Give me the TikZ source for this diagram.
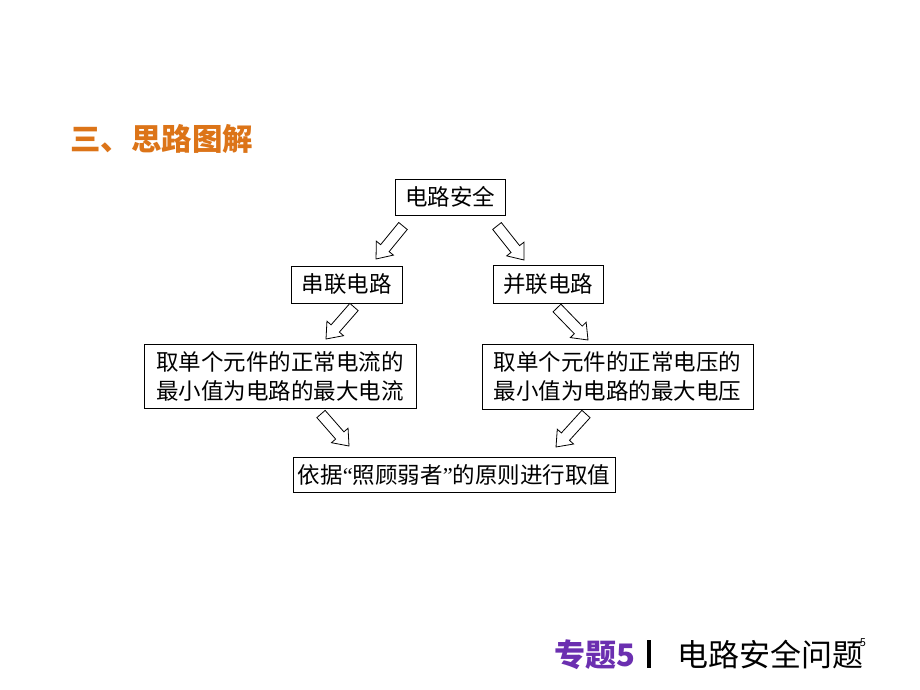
\documentclass[tikz,border=0pt]{standalone}
\usepackage{fontspec}
\newfontfamily\cjk{Noto Sans CJK SC}
\newfontfamily\latinq{Liberation Serif}
\usetikzlibrary{calc}
\definecolor{ttlorange}{HTML}{DC7418}
\definecolor{ftpurple}{HTML}{6B2FB0}
\tikzset{
  box/.style={draw=black, line width=0.9pt, fill=white, inner sep=0pt, align=center,
    font=\cjk\fontsize{22.5}{29}\selectfont},
  blk/.style={draw=black, line width=0.8pt, fill=white},
}
% hollow block arrow between two named coordinates
\newcommand{\hollowarrow}[2]{%
  \draw[blk] let \p1=(#1), \p2=(#2), \n1={atan2(\y2-\y1,\x2-\x1)}, \n2={veclen(\x2-\x1,\y2-\y1)} in
    [shift={(\p1)}, rotate=\n1]
    (0pt,-5.5pt) -- ($(\n2,0pt)+(-14pt,-5.5pt)$) -- ($(\n2,0pt)+(-14pt,-11pt)$) -- (\n2,0pt)
    -- ($(\n2,0pt)+(-14pt,11pt)$) -- ($(\n2,0pt)+(-14pt,5.5pt)$) -- (0pt,5.5pt) -- cycle;}
\begin{document}
\begin{tikzpicture}[x=1pt,y=-1pt]
\useasboundingbox (0,0) rectangle (920,690);
\fill[white] (0,0) rectangle (920,690);
% title
\node[anchor=west, text=ttlorange, font=\cjk\bfseries\fontsize{30.5}{32}\selectfont, inner sep=0pt] (title) at (70,139) {三、思路图解};
% boxes
\node[box, minimum width=110pt, minimum height=36pt] (top) at (450,197) {电路安全};
\node[box, minimum width=111pt, minimum height=37pt] (ser) at (346.5,284.5) {串联电路};
\node[box, minimum width=110pt, minimum height=38pt] (par) at (548,284) {并联电路};
\node[box, minimum width=272pt, minimum height=64pt] (lbox) at (280,376) {取单个元件的正常电流的\\最小值为电路的最大电流};
\node[box, minimum width=271pt, minimum height=65pt] (rbox) at (617.5,376.5) {取单个元件的正常电压的\\最小值为电路的最大电压};
\node[box, minimum width=322pt, minimum height=35pt] (bot) at (454,474.5) {依据{\latinq “}照顾弱者{\latinq ”}的原则进行取值};
% arrow ends
\coordinate (a1s) at (403,226);
\coordinate (a1e) at (376,259);
\coordinate (a2s) at (497,226);
\coordinate (a2e) at (524,260);
\coordinate (a3s) at (354,307);
\coordinate (a3e) at (326,339);
\coordinate (a4s) at (321,414);
\coordinate (a4e) at (349,446);
\coordinate (a5s) at (557,308);
\coordinate (a5e) at (588,340);
\coordinate (a6s) at (586,414);
\coordinate (a6e) at (556,447);
\hollowarrow{a1s}{a1e}
\hollowarrow{a2s}{a2e}
\hollowarrow{a3s}{a3e}
\hollowarrow{a4s}{a4e}
\hollowarrow{a5s}{a5e}
\hollowarrow{a6s}{a6e}
% footer
\node[anchor=west, text=ftpurple, font=\cjk\bfseries\fontsize{31}{33}\selectfont, inner sep=0pt] (ft1) at (554,655) {专题5};
\draw[line width=4pt] (649,640) -- (649,668);
\node[anchor=west, text=black, font=\cjk\fontsize{31}{33}\selectfont, inner sep=0pt] (ft2) at (677,655) {电路安全问题};
\node[text=black, font=\cjk\fontsize{11}{12}\selectfont, inner sep=0pt] (pg) at (863,643) {5};
\end{tikzpicture}
\end{document}
